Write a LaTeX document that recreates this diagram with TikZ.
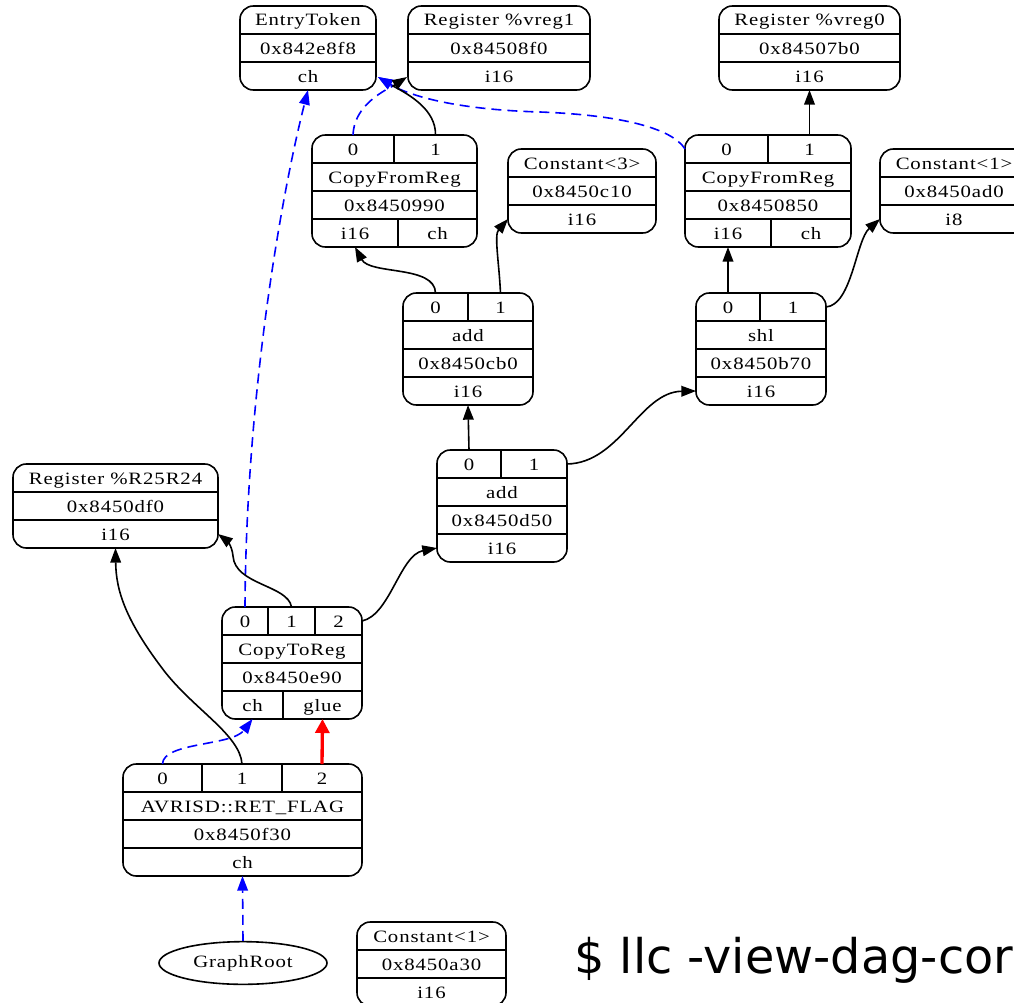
\documentclass[tikz,border=0pt]{standalone}
\usepackage{fontspec}
\newfontfamily\recfont{Liberation Serif}[FakeStretch=1.2, LetterSpace=5]
\newfontfamily\termfont{DejaVu Sans}
\usetikzlibrary{calc,arrows.meta,shapes.geometric}

\tikzset{
  recbox/.style={draw, line width=1.2pt, rounded corners=10pt, inner sep=0pt, outer sep=0pt},
  cell/.style={inner sep=0pt, outer sep=0pt, text height=10.5pt, text depth=1.5pt,
    font=\recfont\fontsize{13pt}{15pt}\selectfont},
  sep/.style={line width=1.1pt},
  link/.style={line width=1.2pt, -{Triangle[length=11pt,width=8pt]}},
  chainlink/.style={link, blue, dash pattern=on 7.5pt off 4.5pt},
  gluelink/.style={line width=2.5pt, red, -{Triangle[length=10.5pt,width=10.5pt]}},
}

% outline of a record spanning (x1,y1)-(x2,y2)
\newcommand\boxnode[5]{\node[recbox, minimum width={(#4-(#2))*0.75pt},
  minimum height={(#5-(#3))*0.75pt}] (#1) at ({(#2+#4)/2},{(#3+#5)/2}) {};}
% one table cell of a record, spanning (x1,y1)-(x2,y2)
\newcommand\cellnode[6]{\node[cell, minimum width={(#4-(#2))*0.75pt},
  minimum height={(#5-(#3))*0.75pt}] (#1) at ({(#2+#4)/2},{(#3+#5)/2}) {#6};}
% separators drawn along a cell's edges
\newcommand\hsep[1]{\draw[sep] (#1.south west) -- (#1.south east);}
\newcommand\tsep[1]{\draw[sep] (#1.north west) -- (#1.north east);}
\newcommand\vsep[1]{\draw[sep] (#1.north east) -- (#1.south east);}

% record with three single rows: name, x1, y1, x2, texts
\newcommand\simplerec[7]{%
  \boxnode{#1}{#2}{#3}{#4}{#3+84}
  \cellnode{#1-a}{#2}{#3}{#4}{#3+28}{#5}
  \cellnode{#1-b}{#2}{#3+28}{#4}{#3+56}{#6}
  \cellnode{#1-c}{#2}{#3+56}{#4}{#3+84}{#7}
  \hsep{#1-a}\hsep{#1-b}}

% operator record with two operand ports and one result type
\newcommand\oprec[8]{%
  \boxnode{#1}{#2}{#3}{#4}{#3+112}
  \cellnode{#1-p0}{#2}{#3}{#5}{#3+28}{0}
  \cellnode{#1-p1}{#5}{#3}{#4}{#3+28}{1}
  \cellnode{#1-op}{#2}{#3+28}{#4}{#3+56}{#6}
  \cellnode{#1-id}{#2}{#3+56}{#4}{#3+84}{#7}
  \cellnode{#1-t}{#2}{#3+84}{#4}{#3+112}{#8}
  \vsep{#1-p0}\tsep{#1-op}\hsep{#1-op}\hsep{#1-id}}

% CopyFromReg record: name, x1, y1, x2, port split, type split, id
\newcommand\cfrrec[7]{%
  \boxnode{#1}{#2}{#3}{#4}{#3+112}
  \cellnode{#1-p0}{#2}{#3}{#5}{#3+28}{0}
  \cellnode{#1-p1}{#5}{#3}{#4}{#3+28}{1}
  \cellnode{#1-op}{#2}{#3+28}{#4}{#3+56}{CopyFromReg}
  \cellnode{#1-id}{#2}{#3+56}{#4}{#3+84}{#7}
  \cellnode{#1-t0}{#2}{#3+84}{#6}{#3+112}{i16}
  \cellnode{#1-t1}{#6}{#3+84}{#4}{#3+112}{ch}
  \vsep{#1-p0}\tsep{#1-op}\hsep{#1-op}\hsep{#1-id}\vsep{#1-t0}}

\begin{document}
\begin{tikzpicture}[x=0.75pt, y=-0.75pt]
\useasboundingbox (0,0) rectangle (1014,1003);
\clip (0,0) rectangle (1014,1003);

% ---- plain records
\simplerec{entry}{240}{6}{376}{EntryToken}{0x842e8f8}{ch}
\simplerec{vreg1}{408}{6}{590}{Register \%vreg1}{0x84508f0}{i16}
\simplerec{vreg0}{719}{6}{900}{Register \%vreg0}{0x84507b0}{i16}
\simplerec{c3}{508}{149}{656}{Constant<3>}{0x8450c10}{i16}
\simplerec{c1}{880}{149}{1028}{Constant<1>}{0x8450ad0}{i8}
\simplerec{r25}{13}{464}{218}{Register \%R25R24}{0x8450df0}{i16}
\simplerec{c1b}{357}{922}{506}{Constant<1>}{0x8450a30}{i16}

% ---- operator records
\cfrrec{cfrA}{312}{135}{477}{394}{398}{0x8450990}
\cfrrec{cfrB}{685}{135}{851}{768}{771}{0x8450850}
\oprec{addA}{403}{293}{533}{468}{add}{0x8450cb0}{i16}
\oprec{shl}{696}{293}{826}{760}{shl}{0x8450b70}{i16}
\oprec{addB}{437}{450}{567}{501}{add}{0x8450d50}{i16}

% CopyToReg
\boxnode{ctr}{222}{607}{362}{719}
\cellnode{ctr-p0}{222}{607}{268}{635}{0}
\cellnode{ctr-p1}{268}{607}{315}{635}{1}
\cellnode{ctr-p2}{315}{607}{362}{635}{2}
\cellnode{ctr-op}{222}{635}{362}{663}{CopyToReg}
\cellnode{ctr-id}{222}{663}{362}{691}{0x8450e90}
\cellnode{ctr-t0}{222}{691}{283}{719}{ch}
\cellnode{ctr-t1}{283}{691}{362}{719}{glue}
\vsep{ctr-p0}\vsep{ctr-p1}\tsep{ctr-op}\hsep{ctr-op}\hsep{ctr-id}\vsep{ctr-t0}

% AVRISD::RET_FLAG
\boxnode{ret}{123}{764}{362}{876}
\cellnode{ret-p0}{123}{764}{202}{792}{0}
\cellnode{ret-p1}{202}{764}{282}{792}{1}
\cellnode{ret-p2}{282}{764}{362}{792}{2}
\cellnode{ret-op}{123}{792}{362}{820}{AVRISD::RET\_FLAG}
\cellnode{ret-id}{123}{820}{362}{848}{0x8450f30}
\cellnode{ret-t}{123}{848}{362}{876}{ch}
\vsep{ret-p0}\vsep{ret-p1}\tsep{ret-op}\hsep{ret-op}\hsep{ret-id}

% GraphRoot
\node[draw, ellipse, line width=1.2pt, minimum width=126pt, minimum height=32pt,
      inner sep=0pt, font=\recfont\fontsize{13pt}{15pt}\selectfont] (root) at (243,963) {GraphRoot};

% ---- chain edges (blue, dashed)
\coordinate (tokjoin) at (393,86);
\draw[chainlink] (ctr-p0.north) .. controls (246,400) and (280,200) .. (entry.south);
\draw[chainlink] (cfrA-p0.north) .. controls (354,110) and (375,95) .. (tokjoin)
      -- ($(entry.south east)+(2,-13)$);
\draw[chainlink] (cfrB-p0.west) .. controls (672,128) and (620,115) .. (540,112)
      .. controls (470,110) and (420,100) .. (tokjoin) -- ($(entry.south east)+(2,-13)$);
\draw[chainlink] (ret-p0.north) .. controls (163,742) and (232,746) .. (ctr-t0.south);
\draw[chainlink] (root.north) -- (ret.south);

% ---- value edges
\draw[link] (cfrA-p1.north) .. controls (436,110) and (410,95) .. (tokjoin)
      -- ($(vreg1.south west)+(-1,-13)$);
\draw[link] (cfrB-p1.north) -- (vreg0.south);
\draw[link] (addA-p0.north) .. controls (435,265) and (370,275) .. (cfrA-t0.south);
\draw[link] (addA-p1.north) .. controls (499,262) and (494,235) .. (c3-c.west);
\draw[link] (shl-p0.north) -- (cfrB-t0.south);
\draw[link] (shl-p1.east) .. controls (852,305) and (856,240) .. (c1-c.west);
\draw[link] (addB-p0.north) -- (addA.south);
\draw[link] (addB-p1.east) .. controls (620,463) and (640,392) .. (shl-t.west);
\draw[link] (ctr-p1.north) .. controls (288,585) and (235,585) .. (233,556)
      .. controls (232,545) and (226,540) .. (r25-c.east);
\draw[link] (ctr-p2.east) .. controls (390,615) and (400,555) .. (addB-t.west);
\draw[link] (ret-p1.north) .. controls (240,735) and (195,710) .. (165,672)
      .. controls (125,620) and (116,590) .. (r25.south);
\draw[gluelink] (ret-p2.north) -- (ctr-t1.south);

% ---- command line
\node[anchor=base west, inner sep=0pt, font=\termfont\fontsize{35.8pt}{42pt}\selectfont]
      (cmd) at (574,973.5) {\$ llc -view-dag-cor};
\end{tikzpicture}
\end{document}
